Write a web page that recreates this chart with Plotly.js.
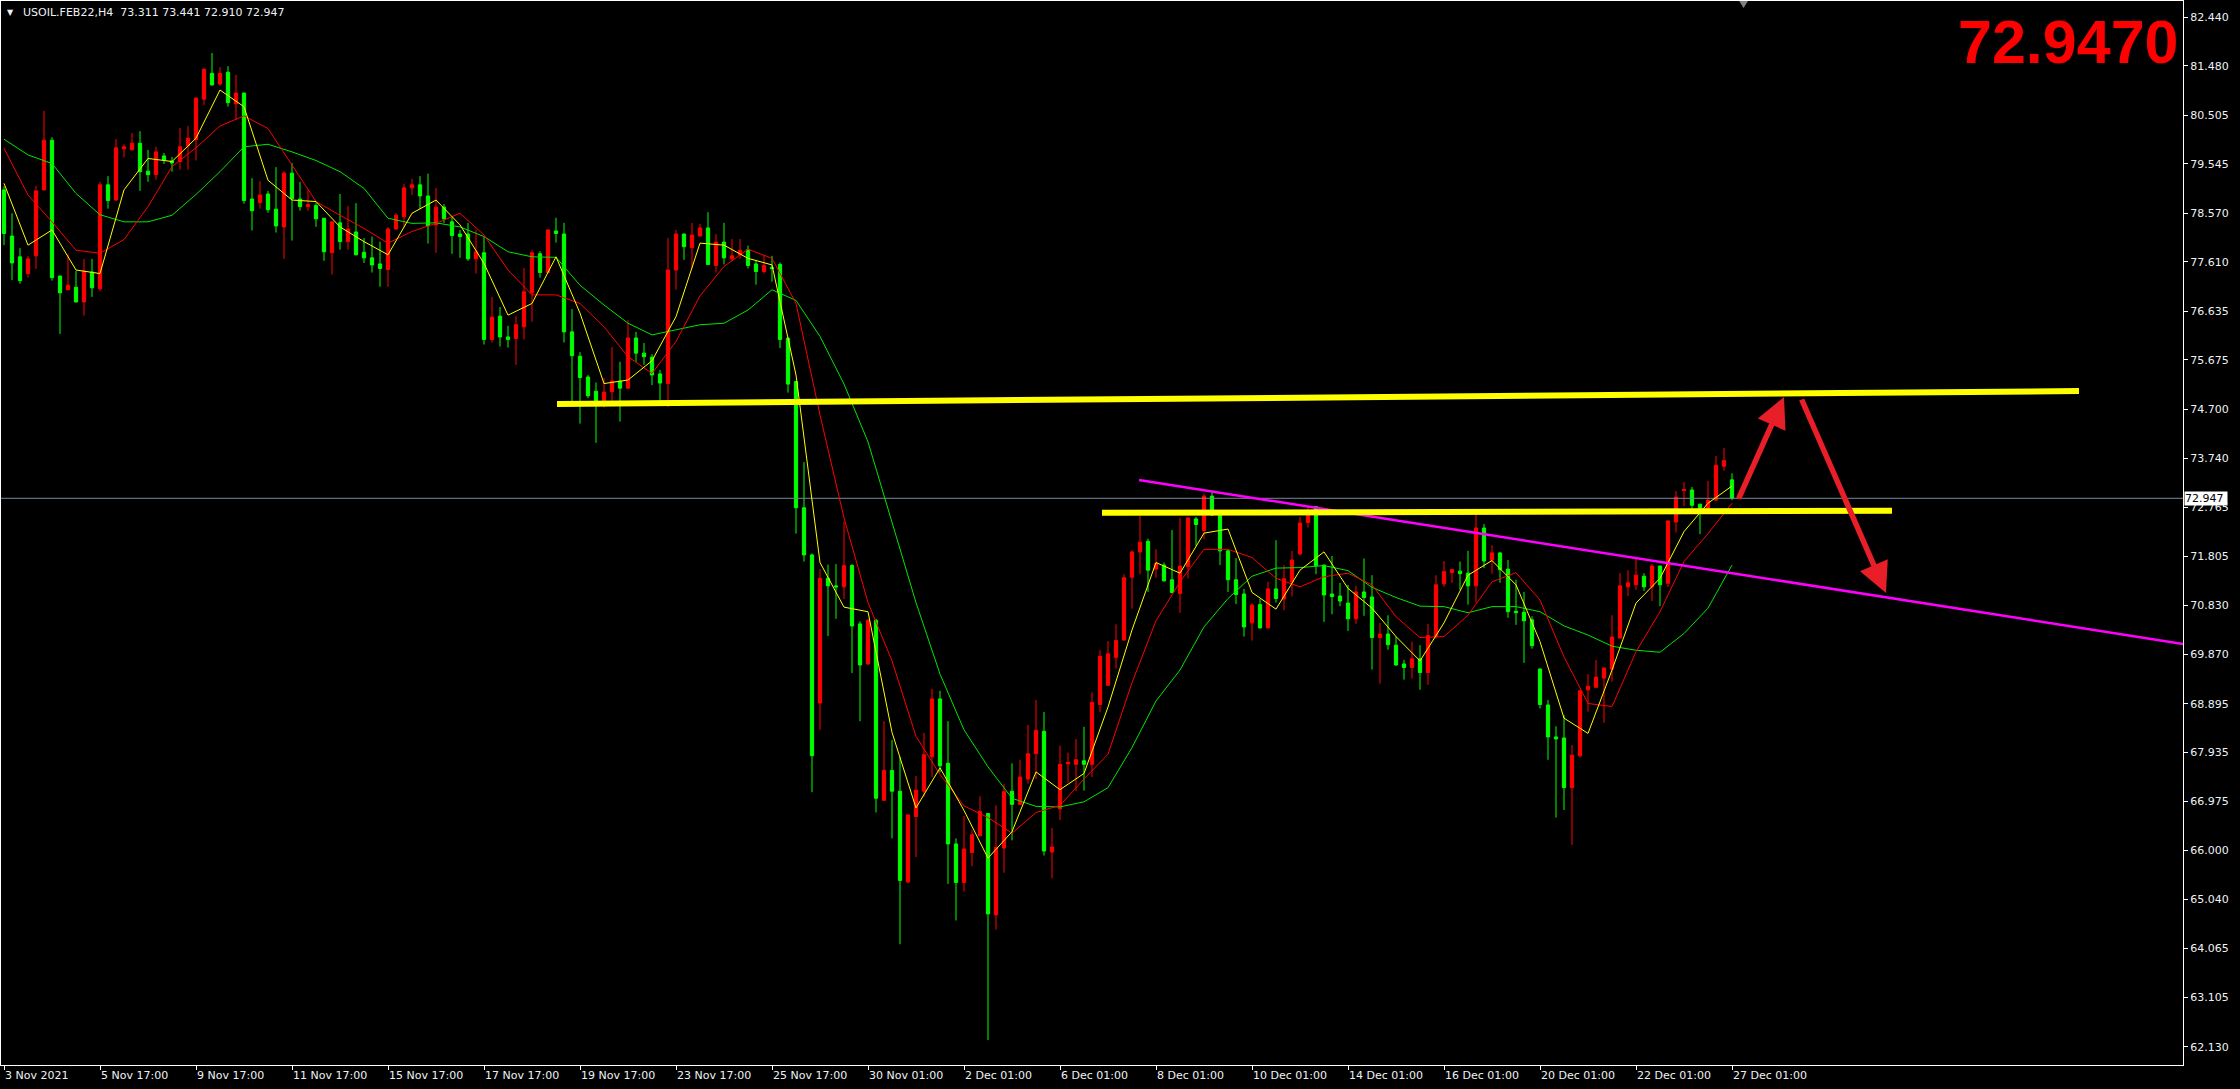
<!DOCTYPE html>
<html><head><meta charset="utf-8">
<script src="https://cdn.plot.ly/plotly-3.0.1.min.js"></script>
<style>html,body{margin:0;padding:0;background:#000;overflow:hidden}#chart{width:2240px;height:1089px}</style>
</head><body><div id="chart"></div>
<script>
// ---- data (USOIL.FEB22, H4) ----
const tickBars = [0,12,24,36,48,60,72,84,96,108,120,132,144,156,168,180,192,204,216];
const tickLabels = ["3 Nov 2021","5 Nov 17:00","9 Nov 17:00","11 Nov 17:00","15 Nov 17:00","17 Nov 17:00","19 Nov 17:00","23 Nov 17:00","25 Nov 17:00","30 Nov 01:00","2 Dec 01:00","6 Dec 01:00","8 Dec 01:00","10 Dec 01:00","14 Dec 01:00","16 Dec 01:00","20 Dec 01:00","22 Dec 01:00","27 Dec 01:00"];
const priceTicks = [82.440,81.480,80.505,79.545,78.570,77.610,76.635,75.675,74.700,73.740,72.765,71.805,70.830,69.870,68.895,67.935,66.975,66.000,65.040,64.065,63.105,62.130];

const open = [
79.03,78.12,77.71,77.38,77.73,79.03,80.01,77.33,77.06,77.11,
76.82,77.41,77.08,79.13,78.83,79.84,79.82,79.95,79.40,79.33,
79.70,79.60,79.59,79.90,80.02,80.82,81.33,81.12,81.35,80.73,
80.94,78.85,78.78,78.95,78.65,78.30,79.36,78.85,78.70,78.72,
78.47,77.79,78.38,78.01,78.20,77.80,77.69,77.57,77.46,78.26,
78.50,79.07,79.13,78.91,78.34,78.69,78.40,78.16,78.16,77.67,
77.79,76.08,76.54,76.13,76.10,76.33,77.00,77.77,77.40,78.22,
78.16,76.23,75.75,75.34,75.06,74.87,75.05,75.26,75.12,76.11,
75.81,75.73,75.40,75.21,77.45,78.16,77.89,78.12,78.28,77.54,
78.00,77.67,77.75,77.85,77.57,77.42,77.50,77.56,76.10,75.25,
72.76,71.83,68.91,71.37,71.22,71.20,71.62,70.47,69.68,70.54,
66.99,67.58,67.17,65.38,66.67,67.17,67.85,68.99,67.72,66.13,
65.37,65.96,66.29,66.73,64.73,66.05,67.17,66.91,67.41,67.91,
68.35,65.97,66.82,67.71,67.70,67.77,67.70,68.88,69.26,69.81,
70.15,71.39,71.89,72.10,71.55,71.63,71.34,71.07,71.60,72.54,
72.31,72.99,72.62,71.91,71.34,71.06,70.49,70.85,70.39,71.16,
70.96,71.30,71.85,72.47,72.78,71.63,71.06,71.02,70.88,70.57,
71.10,71.00,70.20,70.27,70.05,69.68,69.61,69.78,69.51,70.22,
71.26,71.48,71.51,71.47,71.22,72.36,71.73,71.87,71.55,70.72,
70.70,70.55,69.58,68.87,68.24,68.22,67.24,67.87,69.17,69.22,
69.40,69.58,70.19,71.20,71.24,71.41,71.20,71.61,71.27,72.48,
73.10,73.11,72.83,72.75,72.91,73.58,73.311];
const high = [
79.10,78.57,77.88,77.73,79.11,80.59,80.07,77.34,77.76,77.43,
77.67,77.67,79.19,79.30,80.03,79.93,80.15,80.19,79.82,79.88,
79.76,79.68,80.25,80.29,80.86,81.43,81.73,81.45,81.47,81.30,
80.95,79.26,79.20,79.01,79.48,79.40,79.56,79.19,79.03,78.78,
78.48,78.41,78.95,78.71,78.77,78.08,78.11,78.01,78.30,78.57,
79.15,79.25,79.30,79.35,79.07,78.75,78.50,78.24,78.38,78.24,
78.10,76.92,76.72,76.35,76.54,77.49,77.84,77.82,78.25,78.48,
78.38,76.68,75.83,75.38,75.23,75.32,75.93,75.64,76.46,76.23,
76.01,75.79,75.48,78.08,78.24,78.17,78.38,78.36,78.59,78.16,
78.38,78.06,78.06,77.93,77.65,77.75,77.73,77.60,76.13,75.26,
73.66,71.86,71.55,71.64,71.65,72.49,71.65,70.52,70.57,70.57,
68.55,68.18,67.85,66.71,67.47,68.32,69.19,69.15,68.55,66.24,
66.68,66.40,67.07,66.74,66.89,67.31,67.72,67.79,68.48,68.97,
68.73,66.44,68.07,67.93,68.20,68.44,69.12,69.95,70.13,70.46,
71.45,71.92,72.60,72.15,71.94,71.68,72.32,72.56,72.57,72.58,
73.04,73.06,72.63,71.92,71.77,71.16,70.88,70.96,71.30,72.12,
71.63,71.91,72.58,72.78,72.79,71.64,71.81,71.28,71.24,71.22,
71.76,71.43,70.49,70.64,70.22,69.76,70.12,70.05,70.47,71.43,
71.71,71.55,71.70,71.91,72.65,72.44,72.02,71.88,71.73,71.34,
71.10,70.62,69.59,68.97,68.45,68.67,68.08,69.16,69.48,69.76,
69.61,70.64,71.47,71.53,71.75,71.47,71.65,71.62,72.51,73.09,
73.27,73.17,72.84,73.29,73.78,73.94,73.441];
const low = [
77.94,77.25,77.18,77.30,77.47,79.02,77.24,76.19,77.05,76.81,
76.55,76.92,77.04,78.66,78.82,79.67,79.81,79.01,79.19,79.23,
79.54,79.39,79.43,79.43,79.61,80.71,81.09,81.08,80.67,80.41,
78.76,78.23,78.66,78.58,78.19,77.67,78.03,78.62,78.62,78.30,
77.63,77.36,77.85,77.85,77.74,77.59,77.40,77.12,77.12,78.24,
78.30,78.93,78.65,77.97,77.79,78.38,77.77,77.69,77.63,77.38,
75.98,76.02,75.94,75.92,75.58,76.08,76.43,77.30,77.39,77.99,
76.02,74.85,74.42,74.92,74.04,74.74,74.87,74.46,75.11,75.64,
75.58,75.18,74.87,74.75,77.06,77.65,77.48,78.11,77.55,77.40,
77.56,77.63,77.67,77.48,77.16,77.38,77.22,75.91,75.03,72.25,
71.70,67.15,68.38,70.23,70.57,70.96,69.50,68.55,69.66,66.75,
66.98,66.24,64.15,65.35,65.87,67.06,67.45,67.54,65.34,64.62,
65.19,65.69,66.28,62.26,64.44,65.56,66.20,66.90,67.32,67.41,
65.90,65.45,66.60,67.34,67.17,67.18,67.45,68.73,69.25,69.59,
70.14,70.77,71.45,71.10,71.38,71.30,71.07,70.69,71.37,72.01,
72.14,72.60,71.63,71.10,70.86,70.22,70.14,70.38,70.38,70.89,
70.74,71.01,71.82,72.37,71.45,70.51,70.66,70.82,70.33,70.47,
70.63,69.57,69.29,69.96,69.64,69.37,69.39,69.17,69.27,70.18,
71.20,71.28,71.14,70.85,70.89,71.57,71.46,71.28,70.59,70.45,
69.70,69.98,68.80,67.79,66.65,66.80,66.11,67.83,68.74,69.21,
68.52,69.33,70.18,71.02,71.14,71.12,70.92,70.82,71.20,72.27,
72.79,72.75,72.24,72.74,72.90,73.49,72.910];
const close = [
78.17,77.59,77.24,77.67,79.01,80.01,77.30,77.00,77.15,76.82,
77.43,77.10,79.13,78.82,79.86,79.88,79.95,79.39,79.33,79.78,
79.62,79.56,79.88,80.05,80.84,81.41,81.10,81.33,80.75,80.94,
78.82,78.62,78.93,78.64,78.32,79.36,78.86,78.70,78.74,78.46,
77.81,78.40,78.01,78.26,77.75,77.69,77.55,77.48,78.26,78.53,
79.07,79.13,78.91,78.32,78.69,78.46,78.13,78.11,77.67,77.81,
76.08,76.52,76.13,76.08,76.37,77.02,77.79,77.40,78.24,78.17,
76.23,75.76,75.33,74.97,74.87,75.04,75.26,75.12,76.11,75.81,
75.74,75.38,75.22,77.45,78.16,77.91,78.14,78.28,77.56,78.00,
77.69,77.73,77.84,77.54,77.42,77.54,77.48,76.08,75.20,72.76,
71.83,67.87,71.37,71.22,71.20,71.62,70.43,69.66,70.54,67.03,
67.58,67.17,65.41,66.70,67.19,67.89,68.99,67.67,66.13,65.37,
66.03,66.31,66.77,64.75,66.06,67.16,66.91,67.45,67.91,68.37,
65.99,66.07,67.70,67.74,67.79,67.70,68.92,69.83,69.88,70.14,
71.38,71.89,72.08,71.53,71.66,71.32,71.09,71.61,72.56,72.43,
72.99,72.62,71.91,71.34,71.05,70.41,70.84,70.39,71.16,70.97,
71.36,71.73,72.46,72.64,71.62,71.04,71.01,70.92,70.57,71.10,
70.99,70.20,70.27,70.06,69.66,69.61,69.78,69.51,70.24,71.24,
71.50,71.54,71.46,71.22,72.36,71.71,71.87,71.54,70.71,70.69,
70.53,70.04,68.88,68.24,68.20,67.24,67.88,69.15,69.24,69.42,
69.60,70.21,71.22,71.28,71.43,71.20,71.61,71.24,72.50,72.97,
73.12,72.81,72.75,72.91,73.60,73.69,72.947];

// moving averages, read every 3 bars
const maBars = [0,3,6,9,12,15,18,21,24,27,30,33,36,39,42,45,48,51,54,57,60,63,66,69,72,75,78,81,84,87,90,93,96,
  99,102,105,108,111,114,117,120,123,126,129,132,135,138,141,144,147,150,153,156,159,162,165,168,171,174,177,180,183,186,189,192,195,198,201,204,207,210,213,216];
const maFast = [79.16,77.94,78.24,77.45,77.38,79.03,79.65,79.59,80.05,81.00,80.67,79.22,78.83,78.80,78.30,78.01,77.75,78.57,78.83,78.34,77.58,76.56,76.79,77.71,76.60,75.21,75.28,75.66,76.53,77.98,77.94,77.68,77.55,
  75.38,71.68,70.80,70.71,68.33,66.84,67.63,66.79,65.85,66.37,67.55,67.20,67.52,68.83,70.35,71.68,71.47,72.26,72.34,71.09,70.76,71.53,71.89,71.17,70.78,70.22,69.74,70.49,71.43,71.72,71.24,70.12,68.61,68.31,69.56,70.88,71.37,72.29,72.85,73.19];
const maMid = [79.85,78.93,78.40,77.84,77.78,78.05,78.70,79.49,79.86,80.29,80.49,80.24,79.52,78.80,78.53,78.27,77.98,78.21,78.37,78.57,78.14,77.45,76.96,76.96,76.79,76.33,75.74,75.41,76.04,76.94,77.52,77.86,77.68,
  76.79,74.59,72.56,70.89,69.74,68.25,67.50,66.88,66.65,66.34,66.75,66.89,67.41,67.90,69.31,70.53,71.30,71.94,71.94,71.78,71.37,71.20,71.40,71.47,71.24,70.61,70.20,70.22,70.64,71.30,71.48,70.94,69.82,68.90,68.84,69.92,70.71,71.70,72.25,72.85];
const maSlow = [80.03,79.72,79.55,78.96,78.54,78.40,78.40,78.53,78.94,79.39,79.88,79.93,79.78,79.61,79.39,79.06,78.47,78.37,78.38,78.30,78.11,77.81,77.71,77.70,77.15,76.76,76.40,76.17,76.27,76.37,76.40,76.66,77.06,
  76.85,76.14,75.20,74.06,72.47,70.89,69.48,68.38,67.65,67.03,66.87,66.86,66.96,67.24,68.03,68.95,69.56,70.41,70.97,71.41,71.57,71.58,71.62,71.52,71.19,70.99,70.82,70.81,70.69,70.81,70.81,70.71,70.43,70.25,70.03,69.95,69.91,70.28,70.78,71.63];

// drawn objects (bar index, price)
const resistX = [69.125, 259.375], resistY = [74.807, 75.063];
const supportX = [137.25, 236.0], supportY = [72.66, 72.70];
const trendX = [141.875, 272.375], trendY = [73.308, 70.073];
const upArrowX = [216.75, 222.5], upArrowY = [72.913, 74.945];
const downArrowX = [224.625, 235.25], downArrowY = [74.925, 71.079];
const lastPrice = close[close.length - 1];

// ---- chart ----
const xRange = [-0.375, 272.375];
const yRange = [61.769, 82.756];
const bars = open.map((_, i) => i);
const FONT = 'DejaVu Sans, Verdana, sans-serif';
const FG = '#eef2f6';

const traces = [
  {type:'scatter', mode:'lines', x:xRange, y:[lastPrice,lastPrice], line:{color:'#778899', width:1}, hoverinfo:'skip'},
  {type:'candlestick', x:bars, open:open, high:high, low:low, close:close,
   increasing:{line:{color:'#ff0000', width:1}, fillcolor:'#ff0000'},
   decreasing:{line:{color:'#00ff00', width:1}, fillcolor:'#00ff00'},
   whiskerwidth:0, hoverinfo:'skip'},
  {type:'scatter', mode:'lines', x:maBars, y:maSlow, line:{color:'#00e600', width:1}},
  {type:'scatter', mode:'lines', x:maBars, y:maMid, line:{color:'#ff0000', width:1}},
  {type:'scatter', mode:'lines', x:maBars, y:maFast, line:{color:'#ffff00', width:1}},
  {type:'scatter', mode:'lines', x:trendX, y:trendY, line:{color:'#ff00ff', width:2.5}},
  {type:'scatter', mode:'lines', x:resistX, y:resistY, line:{color:'#ffff00', width:6}},
  {type:'scatter', mode:'lines', x:supportX, y:supportY, line:{color:'#ffff00', width:6}}
];

const axisCommon = {showgrid:false, zeroline:false, showline:true, mirror:true, linecolor:'#ffffff', linewidth:1,
  ticks:'outside', ticklen:4, tickcolor:'#ffffff', fixedrange:true, tickfont:{family:FONT, size:11, color:FG}};

const layout = {
  width:2240, height:1089,
  margin:{l:1, r:57, t:1, b:24, pad:0},
  paper_bgcolor:'#000000', plot_bgcolor:'#000000',
  showlegend:false, hovermode:false, boxgap:0.42,
  xaxis:Object.assign({}, axisCommon, {type:'linear', range:xRange, tickmode:'array', tickvals:tickBars, ticktext:tickLabels,
    ticklabelposition:'outside right', rangeslider:{visible:false}}),
  yaxis:Object.assign({}, axisCommon, {side:'right', range:yRange, tickmode:'array', tickvals:priceTicks,
    ticktext:priceTicks.map(v => v.toFixed(3))}),
  annotations:[
    {xref:'paper', yref:'paper', x:0, y:1, xanchor:'left', yanchor:'middle', xshift:4, yshift:-11, showarrow:false,
     text:'▼', font:{family:FONT, size:8, color:FG}},
    {xref:'paper', yref:'paper', x:0, y:1, xanchor:'left', yanchor:'middle', xshift:20, yshift:-11, showarrow:false,
     text:'USOIL.FEB22,H4\u00a0 73.311 73.441 72.910 72.947', font:{family:FONT, size:11, color:FG}},
    {xref:'paper', yref:'paper', x:1, y:1, xanchor:'right', yanchor:'middle', xshift:-2, yshift:-41, showarrow:false,
     text:'<b>72.9470</b>', font:{family:'Liberation Sans, Arial, sans-serif', size:61, color:'#ff0000'}},
    {xref:'paper', yref:'y', x:1, y:lastPrice, xanchor:'left', yanchor:'middle', xshift:1, showarrow:false,
     text:lastPrice.toFixed(3)+' ', bgcolor:'#ffffff', borderpad:0, font:{family:FONT, size:11, color:'#000000'}},
    {xref:'x', yref:'y', axref:'x', ayref:'y', x:upArrowX[1], y:upArrowY[1], ax:upArrowX[0], ay:upArrowY[0],
     showarrow:true, arrowhead:2, arrowsize:1.1, arrowwidth:5.5, arrowcolor:'#e81e28', text:'', standoff:0},
    {xref:'x', yref:'y', axref:'x', ayref:'y', x:downArrowX[1], y:downArrowY[1], ax:downArrowX[0], ay:downArrowY[0],
     showarrow:true, arrowhead:2, arrowsize:1.1, arrowwidth:5.5, arrowcolor:'#e81e28', text:'', standoff:0}
  ],
  shapes:[
    {type:'path', xref:'paper', yref:'paper', path:'M 0.7966 1 L 0.8006 1 L 0.7986 0.9934 Z', fillcolor:'#808080', line:{width:0}}
  ]
};

Plotly.newPlot('chart', traces, layout, {displayModeBar:false, staticPlot:true});
</script></body></html>
